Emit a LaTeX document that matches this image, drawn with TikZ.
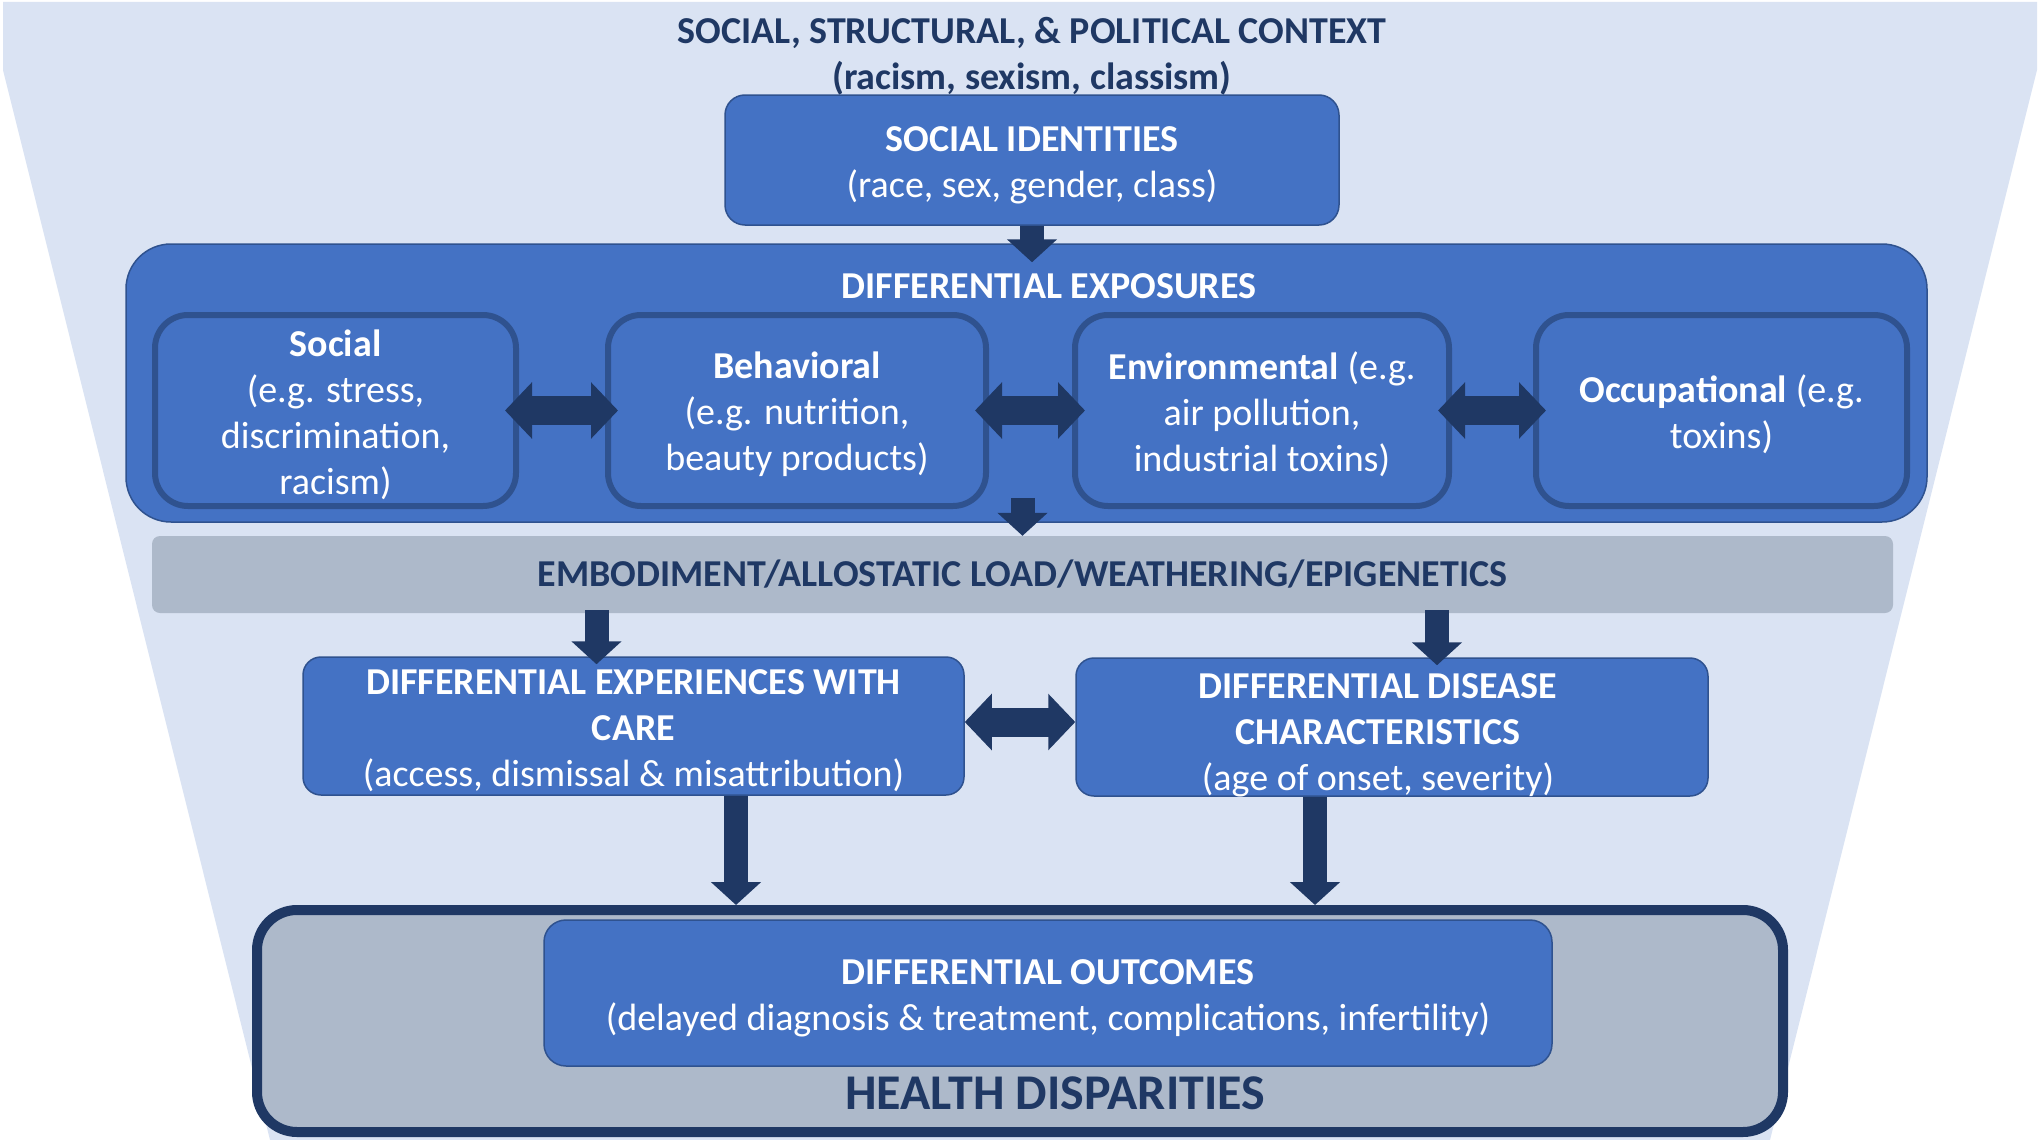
\documentclass[tikz,border=0pt]{standalone}
\usepackage{fontspec}
\setmainfont{Carlito}
\usetikzlibrary{arrows.meta,calc}
\definecolor{boxblue}{HTML}{4472C4}
\definecolor{edgeblue}{HTML}{2F528F}
\definecolor{navy}{HTML}{1F3864}
\definecolor{bandgray}{HTML}{ADB9CA}
\definecolor{paleblue}{HTML}{DAE3F3}
\newcommand{\boxfont}{\fontsize{38}{46}\selectfont}
\newcommand{\firstline}{\rule{0pt}{35pt}}
\begin{document}
\begin{tikzpicture}[x=1pt, y=-1pt,
    bluebox/.style={draw=edgeblue, line width=1.5pt, fill=boxblue, rounded corners=20pt, text=white, align=center, inner sep=0pt, font=\boxfont},
    expbox/.style={bluebox, line width=6pt, rounded corners=33pt, minimum height=191pt},
    navyarrow/.style={draw=navy, line width=24pt, -{Triangle[length=23pt,width=49pt]}},
    dblarrow/.style={draw=navy, line width=29pt, {Triangle[length=27pt,width=55pt]}-{Triangle[length=27pt,width=55pt]}},
    heading/.style={text=navy, font=\boxfont\bfseries, align=center}]
    \useasboundingbox (0,0) rectangle (2040,1140);
    % Draw the background funnel.
    \fill[paleblue] (3,2) -- (2037,2) -- (2037,70) -- (1770,1140) -- (270,1140) -- (3,70) -- cycle;
    % Draw the context heading and the social identities.
    \node[heading] (ctx) at (1032,56) {SOCIAL, STRUCTURAL, \& POLITICAL CONTEXT\\(racism, sexism, classism)};
    \node[bluebox, minimum width=614pt, minimum height=130pt] (ident) at (1032,160) {\firstline\textbf{SOCIAL IDENTITIES}\\(race, sex, gender, class)};
    % Draw the exposures box with its four kinds of exposure.
    \node[bluebox, rounded corners=45pt, minimum width=1801pt, minimum height=278pt] (expo) at (1026.5,383) {};
    \node[text=white, font=\boxfont\bfseries] (expotitle) at (1049,286.5) {DIFFERENTIAL EXPOSURES};
    \node[expbox, minimum width=361pt] (soc) at (335.5,410.5) {\firstline\textbf{Social}\\(e.g. stress,\\discrimination,\\racism)};
    \node[expbox, minimum width=378pt] (beh) at (797,410.5) {\firstline\textbf{Behavioral}\\(e.g. nutrition,\\beauty products)};
    \node[expbox, minimum width=374pt] (env) at (1262,410.5) {\firstline\textbf{Environmental} (e.g.\\air pollution,\\industrial toxins)};
    \node[expbox, minimum width=371pt] (occ) at (1721.5,410.5) {\firstline\textbf{Occupational} (e.g.\\toxins)};
    % Draw the embodiment band and the two middle boxes.
    \node[fill=bandgray, rounded corners=8pt, minimum width=1741pt, minimum height=77pt, text=navy, font=\boxfont\bfseries] (emb) at (1022.5,574.5) {EMBODIMENT/ALLOSTATIC LOAD/WEATHERING/EPIGENETICS};
    \node[bluebox, rounded corners=18pt, minimum width=661pt, minimum height=138pt] (care) at (633.5,726) {\firstline\textbf{DIFFERENTIAL EXPERIENCES WITH}\\\textbf{CARE}\\(access, dismissal \& misattribution)};
    \node[bluebox, rounded corners=18pt, minimum width=632pt, minimum height=138pt] (dis) at (1392,727) {};
    \node[bluebox, draw=none, fill=none] (distext) at (1378,730) {\firstline\textbf{DIFFERENTIAL DISEASE}\\\textbf{CHARACTERISTICS}\\(age of onset, severity)};
    % Draw the health disparities frame with the outcomes inside.
    \node[draw=navy, line width=10pt, fill=bandgray, rounded corners=40pt, minimum width=1526pt, minimum height=222pt] (health) at (1020,1021) {};
    \node[bluebox, rounded corners=22pt, minimum width=1008pt, minimum height=146pt] (outc) at (1048,993) {\firstline\textbf{DIFFERENTIAL OUTCOMES}\\(delayed diagnosis \& treatment, complications, infertility)};
    \node[text=navy, font=\fontsize{50}{60}\selectfont\bfseries] (hlabel) at (1055,1093) {HEALTH DISPARITIES};
    % Draw the arrows between the levels.
    \draw[navyarrow, shorten >=-19pt] (ident.south) -- (ident.south |- expo.north);
    \coordinate (expofoot) at ($(expo.south -| emb.north)+(0,-25)$);
    \draw[navyarrow] (expofoot) -- (emb.north);
    \coordinate (embleft) at ($(emb.south -| care.north)+(-37,-3)$);
    \coordinate (embright) at ($(emb.south -| dis.north)+(45,-3)$);
    \draw[navyarrow, shorten >=-8pt] (embleft) -- (embleft |- care.north);
    \draw[navyarrow, shorten >=-8pt] (embright) -- (embright |- dis.north);
    \coordinate (carefoot) at ($(care.south)+(102.5,0)$);
    \coordinate (disfoot) at ($(dis.south)+(-77,0)$);
    \draw[navyarrow] (carefoot) -- (carefoot |- health.north);
    \draw[navyarrow] (disfoot) -- (disfoot |- health.north);
    % Draw the two-way arrows between neighbouring boxes.
    \draw[dblarrow, shorten <=-14pt, shorten >=-13pt] (soc.east) -- (beh.west);
    \draw[dblarrow, shorten <=-14pt, shorten >=-13pt] (beh.east) -- (env.west);
    \draw[dblarrow, shorten <=-14pt, shorten >=-13pt] (env.east) -- (occ.west);
    \draw[dblarrow] ([yshift=4pt]care.east) -- ([yshift=4pt]care.east -| dis.west);
\end{tikzpicture}
\end{document}
